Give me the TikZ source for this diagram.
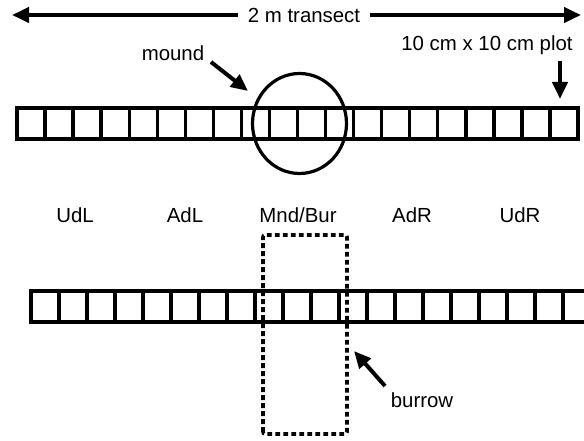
\documentclass[tikz,border=0pt]{standalone}
\usepackage{fontspec}
\setmainfont{Liberation Sans}
\usepackage{xcolor}
\usetikzlibrary{positioning,arrows.meta}
\definecolor{ink}{HTML}{000000}
\definecolor{paper}{HTML}{FFFFFF}
\tikzset{
  cellrow/.style   = {draw=ink, line width=1.8pt},
  celldiv/.style   = {draw=ink, line width=1.7pt},
  moundring/.style = {draw=ink, line width=1.6pt},
  burrowbox/.style = {draw=ink, line width=1.8pt, dash pattern=on 2.4pt off 1.6pt},
  lab/.style       = {font=\fontsize{10.2}{12}\selectfont, text=ink, inner sep=0pt, outer sep=0pt},
  pointer/.style   = {-{Triangle[length=8.5pt,width=7.5pt]}, draw=ink, line width=2pt},
}

\begin{document}
\begin{tikzpicture}[x=0.5pt,y=0.5pt]
\path[use as bounding box, fill=paper] (0,0) rectangle (584,440);

% ---------- the transect -------------------------------------------------
\node[lab, inner xsep=5pt] (transect) at (304,425) {2 m transect};
\coordinate (westend) at (12,425);
\coordinate (eastend) at (581,425);
\draw[pointer] (transect.west) -- (westend);
\draw[pointer] (transect.east) -- (eastend);

% ---------- upper row of plots --------------------------------------------
\draw[cellrow] (17,301) rectangle (578,332);
\foreach \i in {1,...,19}{
  \draw[celldiv] ({17+28.05*\i},301) -- ++(0,31);
}

% the mound over the middle plots
\draw[moundring] (299.5,316.5) ellipse [x radius=47, y radius=50];

\node[lab] (mound) at (173,387) {mound};
\coordinate (moundtail) at (211,378);
\coordinate (moundtip) at (248,349);
\draw[pointer] (moundtail) -- (moundtip);

\node[lab] (plot) at (487,395) {10 cm x 10 cm plot};
\coordinate (plottail) at (560,379);
\coordinate (plottip) at (560,341);
\draw[pointer] (plottail) -- (plottip);

% ---------- zones ----------------------------------------------------------
\node[lab] (udl) at (75,225)  {UdL};
\node[lab] (adl) at (185,225) {AdL};
\node[lab] (mnd) at (298,225) {Mnd/Bur};
\node[lab] (adr) at (412,225) {AdR};
\node[lab] (udr) at (520,225) {UdR};

% ---------- lower row of plots, runs off the right edge -------------------
\begin{scope}
  \clip (0,0) rectangle (584,440);
  \draw[cellrow] (31,118) rectangle (591,149);
  \foreach \i in {1,...,19}{
    \draw[celldiv] ({31+28*\i},118) -- ++(0,31);
  }
\end{scope}

% the burrow under the middle plots
\draw[burrowbox, rounded corners=1pt] (263,6) rectangle (347,205);

\node[lab] (burrow) at (422,40) {burrow};
\coordinate (burrowtail) at (385,54);
\coordinate (burrowtip) at (354,89);
\draw[pointer] (burrowtail) -- (burrowtip);

\end{tikzpicture}
\end{document}
